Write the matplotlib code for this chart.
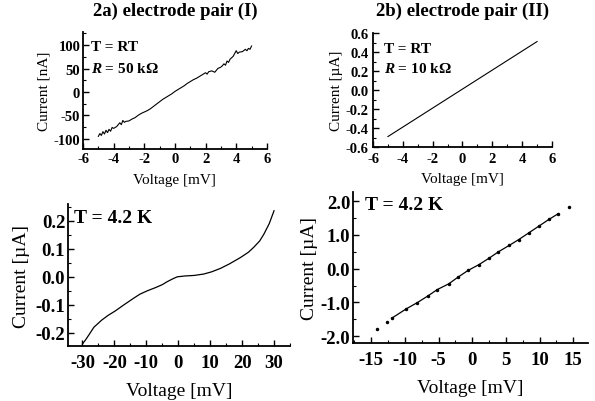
import matplotlib
matplotlib.use("Agg")
import matplotlib.pyplot as plt
from matplotlib.ticker import AutoMinorLocator, MultipleLocator, FormatStrFormatter

plt.rcParams['font.family'] = ['Liberation Serif', 'DejaVu Serif']
plt.rcParams['mathtext.fontset'] = 'custom'
plt.rcParams['mathtext.it'] = 'Liberation Serif:bold:italic'
plt.rcParams['mathtext.rm'] = 'Liberation Serif:bold'
plt.rcParams['axes.unicode_minus'] = False

# ---- data ----
# 2a top: room temperature, noisy
v_a_rt = [-5.0, -4.9, -4.8, -4.7, -4.6, -4.5, -4.4, -4.3, -4.2, -4.1, -4.0,
          -3.8, -3.6, -3.5, -3.4, -3.3, -3.2, -3.0,
          -2.8, -2.6, -2.4, -2.2, -2.0, -1.8, -1.6, -1.4, -1.2, -1.0,
          -0.8, -0.6, -0.4, -0.2, 0.0, 0.2, 0.4, 0.6, 0.8, 1.0,
          1.2, 1.4, 1.6, 1.8, 2.0, 2.1, 2.2, 2.4, 2.6, 2.8, 3.0,
          3.1, 3.2, 3.3, 3.4, 3.5, 3.6, 3.8, 4.0, 4.1, 4.2, 4.4, 4.6, 4.7, 4.8, 4.9, 5.0]
i_a_rt = [-95, -89, -93, -85, -90, -82, -87, -80, -84, -76, -78,
          -74, -66, -70, -61, -65, -63, -62,
          -58, -55, -50, -46, -43, -40, -36, -31, -26, -21,
          -16, -12, -8, -4, 1, 5, 9, 13, 18, 22,
          26, 29, 33, 37, 41, 38, 43, 45, 42, 50, 53,
          56, 60, 57, 66, 63, 70, 76, 88, 82, 85, 86, 91, 88, 93, 91, 98]

# 2b top: room temperature, linear
v_b_rt = [-5.0, 5.0]
i_b_rt = [-0.49, 0.51]

# 2a bottom: 4.2 K
v_a_lt = [-30, -29, -28, -26.4, -24, -22, -19.6, -17, -13.9, -12, -9.7,
          -7, -5, -3.4, -1.5, -0.3, 2, 5, 8, 10.5, 13.2,
          16, 19.5, 22, 23.6, 25.5, 26.8, 28.5, 30]
i_a_lt = [-0.240, -0.225, -0.208, -0.180, -0.155, -0.138, -0.121, -0.100, -0.076, -0.062, -0.050,
          -0.038, -0.028, -0.017, -0.006, 0.000, 0.003, 0.005, 0.010, 0.018, 0.030,
          0.046, 0.069, 0.088, 0.105, 0.128, 0.152, 0.190, 0.236]

# 2b bottom: 4.2 K (measured points)
v_b_lt = [-14.2, -12.7, -11.9, -9.8, -8.2, -6.6, -5.2, -3.5, -2.1, -0.6, 1.0,
          2.5, 3.9, 5.5, 6.9, 8.4, 9.9, 11.4, 12.8, 14.3]
i_b_lt = [-1.78, -1.59, -1.46, -1.19, -1.01, -0.81, -0.62, -0.45, -0.25, -0.05, 0.12,
          0.31, 0.50, 0.69, 0.86, 1.06, 1.26, 1.46, 1.63, 1.83]

fig = plt.figure(figsize=(5.95, 4.02), dpi=100)

ax1 = fig.add_axes([0.1395, 0.6269, 0.309, 0.291])
ax2 = fig.add_axes([0.6269, 0.6318, 0.3008, 0.2836])
ax3 = fig.add_axes([0.1143, 0.1368, 0.3731, 0.3532])
ax4 = fig.add_axes([0.5933, 0.1443, 0.395, 0.3756])

def style(ax, fs, pad=2):
    for s in ['top', 'right']:
        ax.spines[s].set_visible(False)
    for s in ['left', 'bottom']:
        ax.spines[s].set_linewidth(1.3)
    ax.xaxis.set_minor_locator(AutoMinorLocator(2))
    ax.yaxis.set_minor_locator(AutoMinorLocator(2))
    ax.tick_params(which='major', direction='in', length=4, width=1.0, labelsize=fs, pad=pad)
    ax.tick_params(which='minor', direction='in', length=2, width=0.8)
    for lab in ax.get_xticklabels() + ax.get_yticklabels():
        lab.set_fontweight('bold')

# top-left
ax1.plot(v_a_rt, i_a_rt, color='black', lw=0.8)
ax1.set_xlim(-6, 6)
ax1.set_ylim(-122, 128)
ax1.xaxis.set_major_locator(MultipleLocator(2))
ax1.yaxis.set_major_locator(MultipleLocator(50))
style(ax1, 10.5)
ax1.set_xlabel('Voltage [mV]', fontsize=11, labelpad=6)
ax1.set_ylabel('Current [nA]', fontsize=11, labelpad=2)
ax1.text(0.045, 0.85, 'T = RT', transform=ax1.transAxes, fontsize=11, fontweight='bold')
ax1.text(0.045, 0.66, r'$R$ = 50 kΩ', transform=ax1.transAxes, fontsize=11, fontweight='bold')
ax1.set_title('2a) electrode pair (I)', fontsize=13.5, fontweight='bold', pad=12)

# top-right
ax2.plot(v_b_rt, i_b_rt, color='black', lw=0.8)
ax2.set_xlim(-6, 6)
ax2.set_ylim(-0.6, 0.6)
ax2.xaxis.set_major_locator(MultipleLocator(2))
ax2.yaxis.set_major_locator(MultipleLocator(0.2))
ax2.yaxis.set_major_formatter(FormatStrFormatter('%.1f'))
style(ax2, 10.5)
ax2.tick_params(axis='x', which='major', pad=3.5)
ax2.tick_params(axis='y', which='major', pad=3)
ax2.set_xlabel('Voltage [mV]', fontsize=11, labelpad=5)
ax2.set_ylabel('Current [µA]', fontsize=11, labelpad=2)
ax2.text(0.06, 0.83, 'T = RT', transform=ax2.transAxes, fontsize=11, fontweight='bold')
ax2.text(0.06, 0.66, r'$R$ = 10 kΩ', transform=ax2.transAxes, fontsize=11, fontweight='bold')
ax2.set_title('2b) electrode pair (II)', fontsize=13.5, fontweight='bold', pad=13)

# bottom-left
ax3.plot(v_a_lt, i_a_lt, color='black', lw=0.9)
ax3.set_xlim(-34.5, 35)
ax3.set_ylim(-0.247, 0.26)
ax3.xaxis.set_major_locator(MultipleLocator(10))
ax3.yaxis.set_major_locator(MultipleLocator(0.1))
ax3.yaxis.set_major_formatter(FormatStrFormatter('%.1f'))
style(ax3, 13.5)
ax3.tick_params(axis='x', which='major', pad=6)
ax3.set_xlabel('Voltage [mV]', fontsize=14, labelpad=8)
ax3.set_ylabel('Current [µA]', fontsize=14, labelpad=4)
ax3.text(0.025, 0.87, 'T = 4.2 K', transform=ax3.transAxes, fontsize=14, fontweight='bold')

# bottom-right
ax4.plot(v_b_lt[2:19], i_b_lt[2:19], color='black', lw=0.9)
ax4.plot(v_b_lt, i_b_lt, linestyle='none', marker='o', markersize=1.5, color='black')
ax4.set_xlim(-17.7, 17.2)
ax4.set_ylim(-2.2, 2.27)
ax4.xaxis.set_major_locator(MultipleLocator(5))
ax4.yaxis.set_major_locator(MultipleLocator(1.0))
ax4.yaxis.set_major_formatter(FormatStrFormatter('%.1f'))
style(ax4, 13.5)
ax4.tick_params(axis='x', which='major', pad=6)
ax4.set_xlabel('Voltage [mV]', fontsize=14, labelpad=8)
ax4.set_ylabel('Current [µA]', fontsize=14, labelpad=2)
ax4.text(0.05, 0.89, 'T = 4.2 K', transform=ax4.transAxes, fontsize=14, fontweight='bold')

fig.savefig('out.png', dpi=100, facecolor='white')
